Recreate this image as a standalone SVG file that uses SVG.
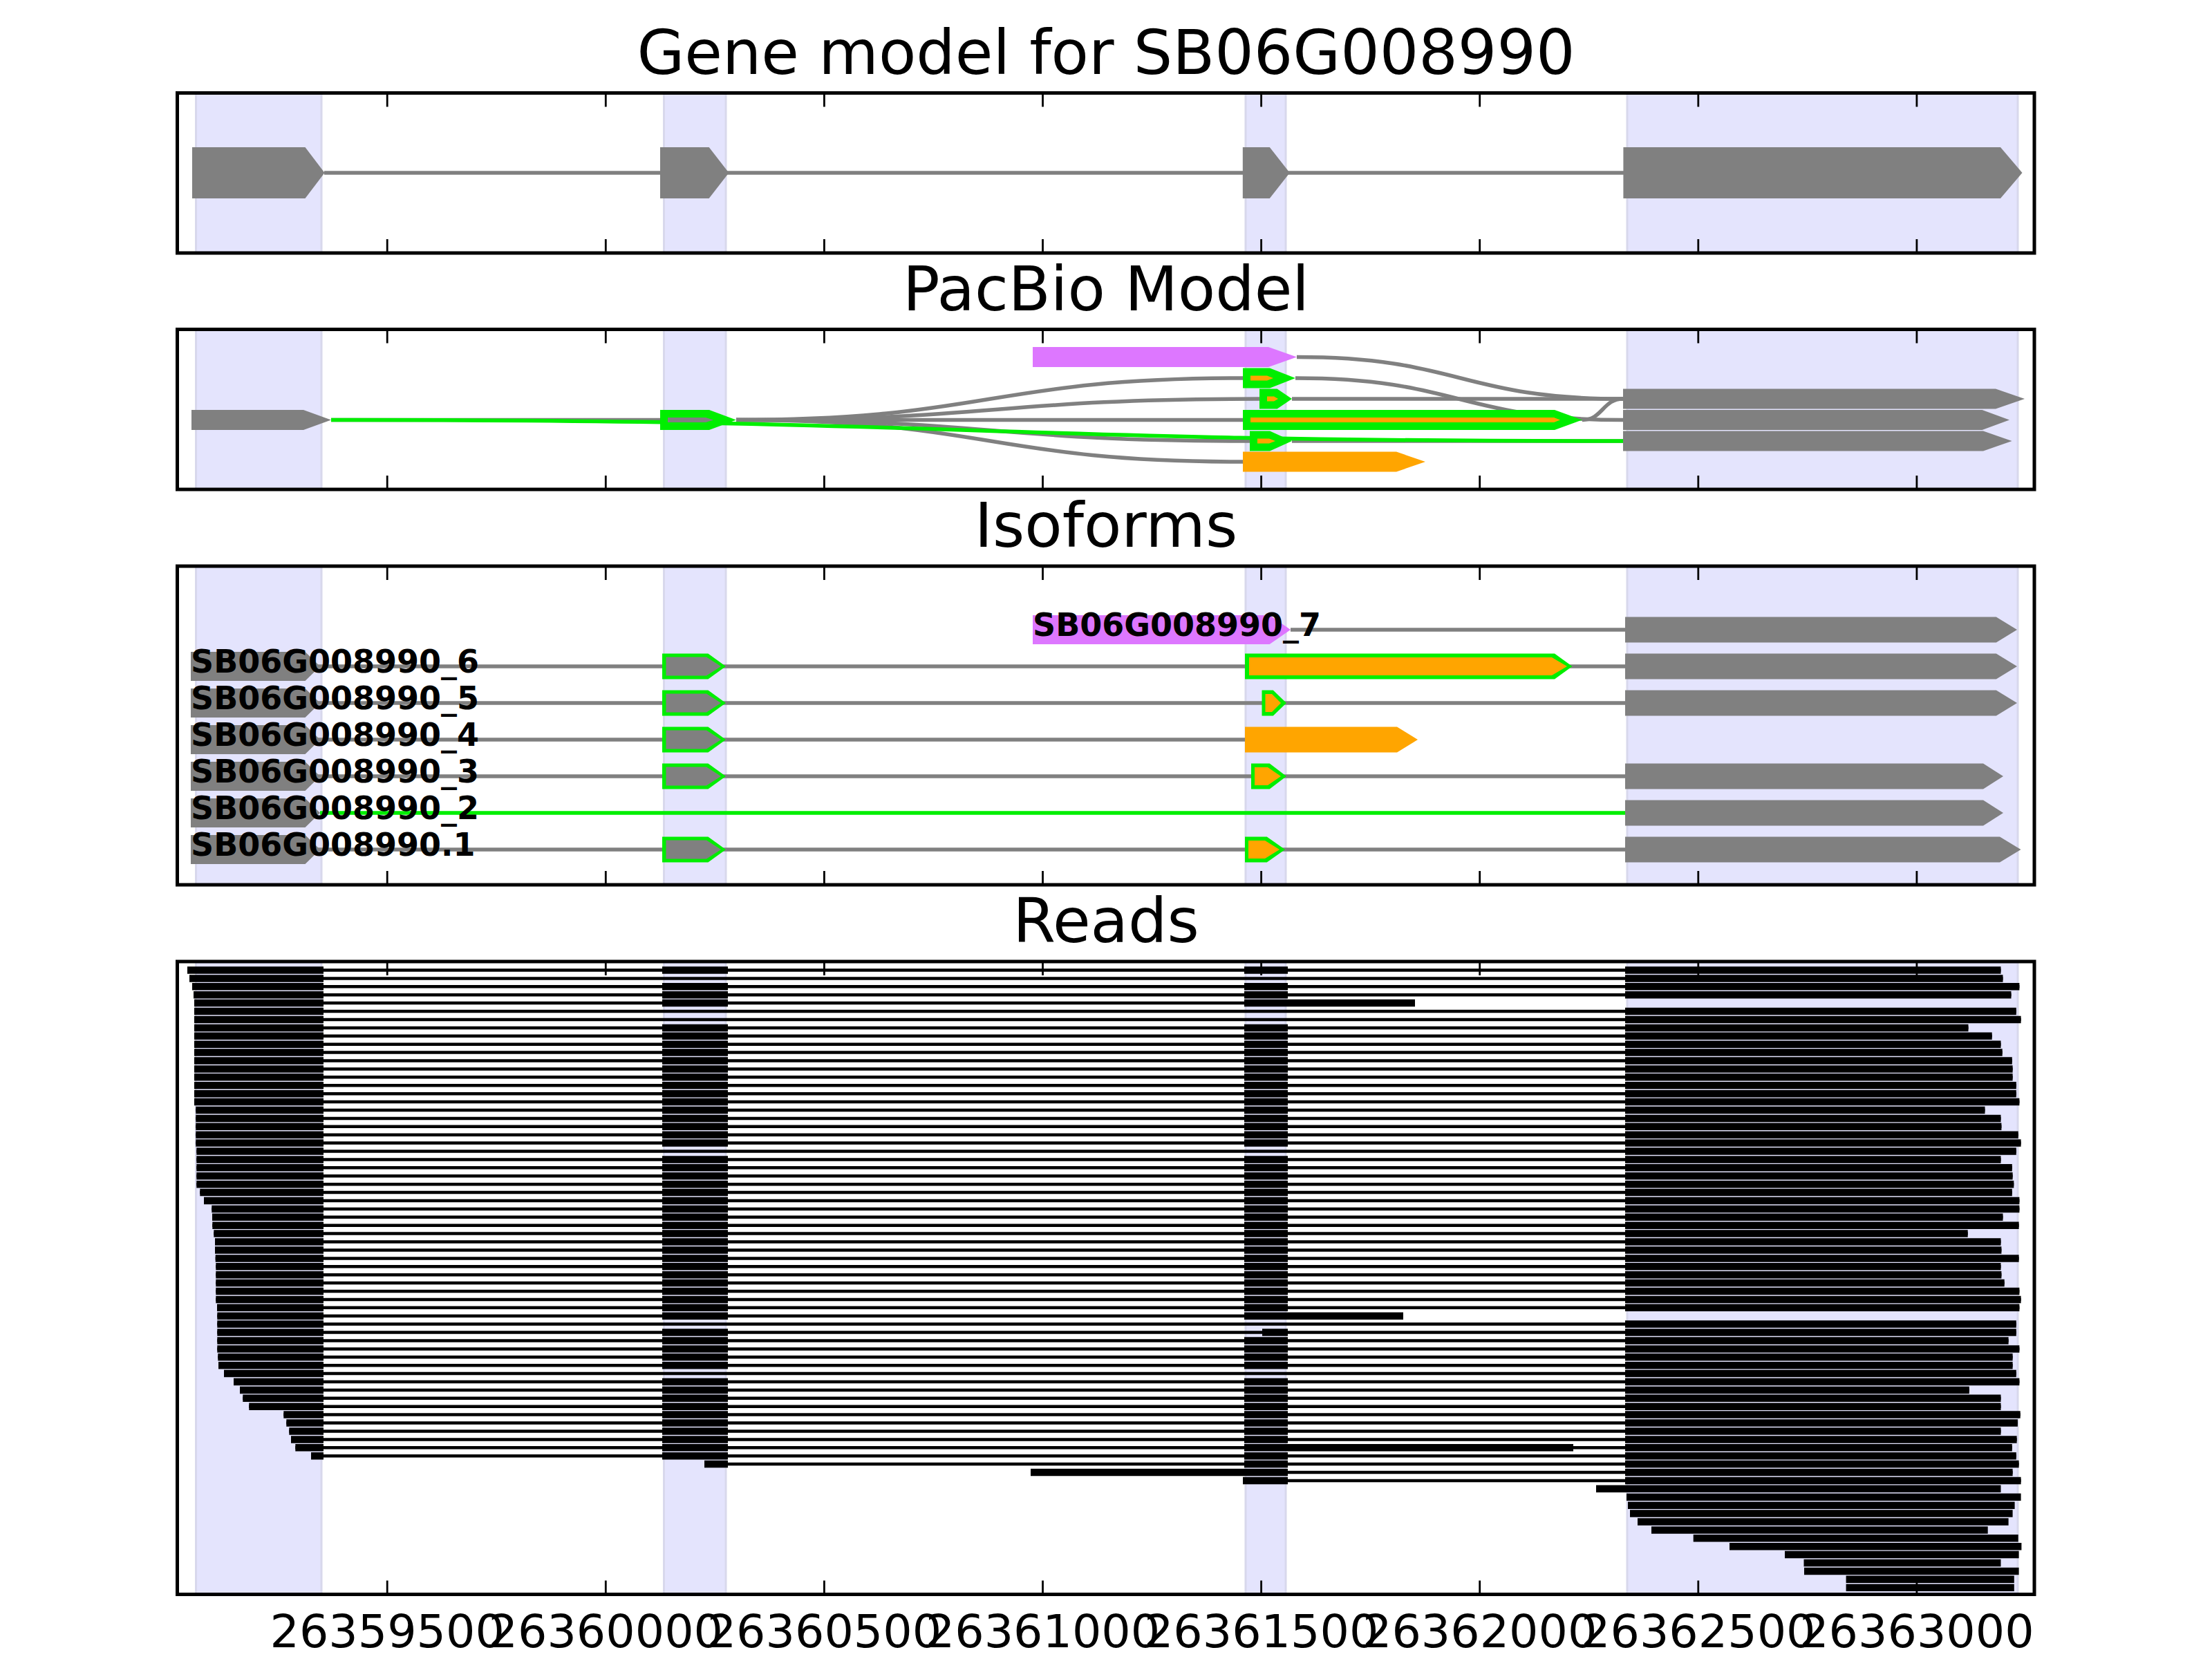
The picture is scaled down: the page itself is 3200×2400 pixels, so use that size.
<svg xmlns="http://www.w3.org/2000/svg" width="3200" height="2400" viewBox="0 0 3200 2400">
<style>
.title{font-family:"DejaVu Sans","Liberation Sans",sans-serif;font-size:88.9px;text-anchor:middle;fill:#000}
.ticklab{font-family:"DejaVu Sans","Liberation Sans",sans-serif;font-size:66.7px;text-anchor:middle;fill:#000}
.lab{font-family:"DejaVu Sans","Liberation Sans",sans-serif;font-weight:bold;font-size:46px;fill:#000}
.frame{fill:none;stroke:#000;stroke-width:5}
.tick{fill:none;stroke:#000;stroke-width:2.8}
.shade{fill:#e4e4fd;stroke:#d8d8ec;stroke-width:3}
.gray{fill:#808080}
.green{fill:#00ee00}
.orange{fill:#ffa500}
.magenta{fill:#dd77ff}
.intron{fill:none;stroke:#808080;stroke-width:5.5}
.gline{fill:none;stroke:#00ee00;stroke-width:5.5}
.bar{fill:none;stroke:#000;stroke-width:10.5}
.ln{fill:none;stroke:#000;stroke-width:4.5}
</style>
<rect x="0" y="0" width="3200" height="2400" fill="#fff"/>

<!-- Panel 1: Gene model -->
<g id="panel-gene-model">
<text class="title" x="1600" y="106.5">Gene model for SB06G008990</text>
<g id="p1-shading">
<rect class="shade" x="283.5" y="134.5" width="181.5" height="231.5"/>
<rect class="shade" x="960.5" y="134.5" width="89.5" height="231.5"/>
<rect class="shade" x="1802" y="134.5" width="58" height="231.5"/>
<rect class="shade" x="2354" y="134.5" width="565" height="231.5"/>
</g>
<g id="p1-connectors"><path class="intron" d="M469 250H2349"/></g>
<g id="p1-exon1"><polygon class="gray" points="278,213 441.5,213 469.6,250 441.5,287 278,287"/></g>
<g id="p1-exon2"><polygon class="gray" points="955,213 1025.7,213 1054.4,250 1025.7,287 955,287"/></g>
<g id="p1-exon3"><polygon class="gray" points="1797.8,213 1836.8,213 1865.8,250 1836.8,287 1797.8,287"/></g>
<g id="p1-exon4"><polygon class="gray" points="2348.4,213 2894,213 2925.5,250 2894,287 2348.4,287"/></g>
<path class="tick" d="M560.2 134.5v20M876.3 134.5v20M1192.4 134.5v20M1508.5 134.5v20M1824.6 134.5v20M2140.7 134.5v20M2456.8 134.5v20M2772.9 134.5v20M560.2 366v-20M876.3 366v-20M1192.4 366v-20M1508.5 366v-20M1824.6 366v-20M2140.7 366v-20M2456.8 366v-20M2772.9 366v-20"/>
<rect class="frame" x="256.5" y="134.5" width="2686.5" height="231.5"/>
</g>

<!-- Panel 2: PacBio Model -->
<g id="panel-pacbio">
<text class="title" x="1600" y="448.5">PacBio Model</text>
<g id="p2-shading">
<rect class="shade" x="283.5" y="476.5" width="181.5" height="231.5"/>
<rect class="shade" x="960.5" y="476.5" width="89.5" height="231.5"/>
<rect class="shade" x="1802" y="476.5" width="58" height="231.5"/>
<rect class="shade" x="2354" y="476.5" width="565" height="231.5"/>
</g>
<g id="p2-connectors">
<path class="intron" d="M479 607.5H955"/>
<path class="intron" d="M1065 607.5C1431.5 607.5 1431.5 547 1798 547"/>
<path class="intron" d="M1065 607.5C1443.5 607.5 1443.5 577 1822 577"/>
<path class="intron" d="M1065 607.5H1798"/>
<path class="intron" d="M1065 607.5C1436.5 607.5 1436.5 638 1808 638"/>
<path class="intron" d="M1065 607.5C1431.5 607.5 1431.5 668 1798 668"/>
<path class="intron" d="M1876 516.5C2112 516.5 2112 577 2348 577"/>
<path class="intron" d="M1874 547C2111 547 2111 607.5 2348 607.5"/>
<path class="intron" d="M1869 577H2348"/>
<path class="intron" d="M2289 607.5C2318.5 607.5 2318.5 577 2348 577"/>
<path class="intron" d="M1869 638H2348"/>
<path class="gline" d="M479 607.5C1413.5 607.5 1413.5 638 2348 638"/>
</g>
<g id="p2-exon1"><polygon class="gray" points="277,593 439,593 479,607.5 439,622 277,622"/></g>
<g id="p2-exon2"><polygon class="green" points="955,593 1026,593 1065,607.5 1026,622 955,622"/><polygon class="gray" points="966,604 1021,604 1032,607.5 1021,611 966,611"/></g>
<g id="p2-row1"><polygon class="magenta" points="1494,502 1835,502 1876,516.5 1835,531 1494,531"/></g>
<g id="p2-row2"><polygon class="green" points="1798,532.5 1837,532.5 1874,547 1837,561.5 1798,561.5"/><polygon class="orange" points="1809,543.5 1833,543.5 1842,547 1833,550.5 1809,550.5"/></g>
<g id="p2-row3"><polygon class="green" points="1822,562.5 1847.6,562.5 1869,577 1847.6,591.5 1822,591.5"/><polygon class="orange" points="1833,573.5 1843,573.5 1849,577 1843,580.5 1833,580.5"/></g>
<g id="p2-row4"><polygon class="green" points="1798,593 2249,593 2289,607.5 2249,622 1798,622"/><polygon class="orange" points="1809,604 2248,604 2257,607.5 2248,611 1809,611"/></g>
<g id="p2-row5"><polygon class="green" points="1808,623.5 1837,623.5 1869,638 1837,652.5 1808,652.5"/><polygon class="orange" points="1819,634.5 1836,634.5 1845,638 1836,641.5 1819,641.5"/></g>
<g id="p2-row6"><polygon class="orange" points="1798,653.5 2020,653.5 2062,668 2020,682.5 1798,682.5"/></g>
<g id="p2-last1"><polygon class="gray" points="2348,562.5 2887,562.5 2929,577 2887,591.5 2348,591.5"/></g>
<g id="p2-last2"><polygon class="gray" points="2348,593 2867.5,593 2907,607.5 2867.5,622 2348,622"/></g>
<g id="p2-last3"><polygon class="gray" points="2348,623.5 2869,623.5 2910.6,638 2869,652.5 2348,652.5"/></g>
<path class="tick" d="M560.2 476.5v20M876.3 476.5v20M1192.4 476.5v20M1508.5 476.5v20M1824.6 476.5v20M2140.7 476.5v20M2456.8 476.5v20M2772.9 476.5v20M560.2 708v-20M876.3 708v-20M1192.4 708v-20M1508.5 708v-20M1824.6 708v-20M2140.7 708v-20M2456.8 708v-20M2772.9 708v-20"/>
<rect class="frame" x="256.5" y="476.5" width="2686.5" height="231.5"/>
</g>

<!-- Panel 3: Isoforms -->
<g id="panel-isoforms">
<text class="title" x="1600" y="791">Isoforms</text>
<g id="p3-shading">
<rect class="shade" x="283.5" y="819" width="181.5" height="461"/>
<rect class="shade" x="960.5" y="819" width="89.5" height="461"/>
<rect class="shade" x="1802" y="819" width="58" height="461"/>
<rect class="shade" x="2354" y="819" width="565" height="461"/>
</g>
<g id="p3-connectors">
<path class="intron" d="M1867 911H2351M276 964H2351M276 1017H2351M276 1070H1801M276 1123H2351M276 1229H2351"/>
<path class="gline" d="M463 1176H2351"/>
</g>
<g id="iso-7">
<polygon class="magenta" points="1494,890 1836.7,890 1867,911 1836.7,932 1494,932"/>
<polygon class="gray" points="2351,892.5 2887.8,892.5 2918,911 2887.8,929.5 2351,929.5"/>
<text class="lab" x="1494" y="920">SB06G008990_7</text>
</g>
<g id="iso-6">
<polygon class="gray" points="276,943 441.5,943 463,964 441.5,985 276,985"/>
<polygon class="green" points="958,945.5 1024.4,945.5 1050,964 1024.4,982.5 958,982.5"/><polygon class="gray" points="963.5,950.5 1022,950.5 1043,964 1022,977.5 963.5,977.5"/>
<polygon class="green" points="1801,945.5 2249,945.5 2274.5,964 2249,982.5 1801,982.5"/><polygon class="orange" points="1807,951 2245,951 2267,964 2245,977 1807,977"/>
<polygon class="gray" points="2351,945.5 2887.8,945.5 2918,964 2887.8,982.5 2351,982.5"/>
<text class="lab" x="276" y="973">SB06G008990_6</text>
</g>
<g id="iso-5">
<polygon class="gray" points="276,996 441.5,996 463,1017 441.5,1038 276,1038"/>
<polygon class="green" points="958,998.5 1024.4,998.5 1050,1017 1024.4,1035.5 958,1035.5"/><polygon class="gray" points="963.5,1003.5 1022,1003.5 1043,1017 1022,1030.5 963.5,1030.5"/>
<polygon class="green" points="1825.5,998.5 1841.8,998.5 1861,1017 1841.8,1035.5 1825.5,1035.5"/><polygon class="orange" points="1830.5,1004 1840,1004 1853,1017 1840,1030 1830.5,1030"/>
<polygon class="gray" points="2351,998.5 2887.8,998.5 2918,1017 2887.8,1035.5 2351,1035.5"/>
<text class="lab" x="276" y="1026">SB06G008990_5</text>
</g>
<g id="iso-4">
<polygon class="gray" points="276,1049 441.5,1049 463,1070 441.5,1091 276,1091"/>
<polygon class="green" points="958,1051.5 1024.4,1051.5 1050,1070 1024.4,1088.5 958,1088.5"/><polygon class="gray" points="963.5,1056.5 1022,1056.5 1043,1070 1022,1083.5 963.5,1083.5"/>
<polygon class="orange" points="1801,1051.5 2021,1051.5 2051,1070 2021,1088.5 1801,1088.5"/>
<text class="lab" x="276" y="1079">SB06G008990_4</text>
</g>
<g id="iso-3">
<polygon class="gray" points="276,1102 441.5,1102 463,1123 441.5,1144 276,1144"/>
<polygon class="green" points="958,1104.5 1024.4,1104.5 1050,1123 1024.4,1141.5 958,1141.5"/><polygon class="gray" points="963.5,1109.5 1022,1109.5 1043,1123 1022,1136.5 963.5,1136.5"/>
<polygon class="green" points="1810,1104.5 1836.7,1104.5 1861,1123 1836.7,1141.5 1810,1141.5"/><polygon class="orange" points="1815,1110 1834,1110 1853,1123 1834,1136 1815,1136"/>
<polygon class="gray" points="2351,1104.5 2869,1104.5 2898,1123 2869,1141.5 2351,1141.5"/>
<text class="lab" x="276" y="1132">SB06G008990_3</text>
</g>
<g id="iso-2">
<polygon class="gray" points="276,1155 441.5,1155 463,1176 441.5,1197 276,1197"/>
<polygon class="gray" points="2351,1157.5 2869,1157.5 2898,1176 2869,1194.5 2351,1194.5"/>
<text class="lab" x="276" y="1185">SB06G008990_2</text>
</g>
<g id="iso-1">
<polygon class="gray" points="276,1208 441.5,1208 463,1229 441.5,1250 276,1250"/>
<polygon class="green" points="958,1210.5 1024.4,1210.5 1050,1229 1024.4,1247.5 958,1247.5"/><polygon class="gray" points="963.5,1215.5 1022,1215.5 1043,1229 1022,1242.5 963.5,1242.5"/>
<polygon class="green" points="1801,1210.5 1832.7,1210.5 1859,1229 1832.7,1247.5 1801,1247.5"/><polygon class="orange" points="1806,1216 1830,1216 1851,1229 1830,1242 1806,1242"/>
<polygon class="gray" points="2351,1210.5 2893,1210.5 2923.5,1229 2893,1247.5 2351,1247.5"/>
<text class="lab" x="276" y="1238">SB06G008990.1</text>
</g>
<path class="tick" d="M560.2 819v20M876.3 819v20M1192.4 819v20M1508.5 819v20M1824.6 819v20M2140.7 819v20M2456.8 819v20M2772.9 819v20M560.2 1280v-20M876.3 1280v-20M1192.4 1280v-20M1508.5 1280v-20M1824.6 1280v-20M2140.7 1280v-20M2456.8 1280v-20M2772.9 1280v-20"/>
<rect class="frame" x="256.5" y="819" width="2686.5" height="461"/>
</g>

<!-- Panel 4: Reads -->
<g id="panel-reads">
<text class="title" x="1600" y="1363">Reads</text>
<g id="p4-shading">
<rect class="shade" x="283.5" y="1391" width="181.5" height="915.5"/>
<rect class="shade" x="960.5" y="1391" width="89.5" height="915.5"/>
<rect class="shade" x="1802" y="1391" width="58" height="915.5"/>
<rect class="shade" x="2354" y="1391" width="565" height="915.5"/>
</g>
<g id="reads">
<g transform="translate(0,1403.5)"><path class="ln" d="M271 0H2894.5"/><path class="bar" d="M271 0H468M958 0H1053M1800 0H1863M2351 0H2894.5"/></g>
<g transform="translate(0,1415.4)"><path class="ln" d="M274 0H2897.5"/><path class="bar" d="M274 0H468M2351 0H2897.5"/></g>
<g transform="translate(0,1427.3)"><path class="ln" d="M278 0H2921.4"/><path class="bar" d="M278 0H468M958 0H1053M1800 0H1863M2351 0H2921.4"/></g>
<g transform="translate(0,1439.2)"><path class="ln" d="M280 0H2909.5"/><path class="bar" d="M280 0H468M958 0H1053M1800 0H1863M2351 0H2909.5"/></g>
<g transform="translate(0,1451.1)"><path class="ln" d="M281 0H2047"/><path class="bar" d="M281 0H468M958 0H1053M1800 0H2047"/></g>
<g transform="translate(0,1463.1)"><path class="ln" d="M281 0H2916.8"/><path class="bar" d="M281 0H468M2351 0H2916.8"/></g>
<g transform="translate(0,1475)"><path class="ln" d="M281 0H2923.6"/><path class="bar" d="M281 0H468M2351 0H2923.6"/></g>
<g transform="translate(0,1486.9)"><path class="ln" d="M281 0H2847.5"/><path class="bar" d="M281 0H468M958 0H1053M1800 0H1863M2351 0H2847.5"/></g>
<g transform="translate(0,1498.8)"><path class="ln" d="M281 0H2881.7"/><path class="bar" d="M281 0H468M958 0H1053M1800 0H1863M2351 0H2881.7"/></g>
<g transform="translate(0,1510.7)"><path class="ln" d="M281 0H2894.5"/><path class="bar" d="M281 0H468M958 0H1053M1800 0H1863M2351 0H2894.5"/></g>
<g transform="translate(0,1522.6)"><path class="ln" d="M281 0H2896.7"/><path class="bar" d="M281 0H468M958 0H1053M1800 0H1863M2351 0H2896.7"/></g>
<g transform="translate(0,1534.5)"><path class="ln" d="M281 0H2910.8"/><path class="bar" d="M281 0H468M958 0H1053M1800 0H1863M2351 0H2910.8"/></g>
<g transform="translate(0,1546.4)"><path class="ln" d="M281 0H2911.6"/><path class="bar" d="M281 0H468M958 0H1053M1800 0H1863M2351 0H2911.6"/></g>
<g transform="translate(0,1558.3)"><path class="ln" d="M281 0H2911.6"/><path class="bar" d="M281 0H468M958 0H1053M1800 0H1863M2351 0H2911.6"/></g>
<g transform="translate(0,1570.2)"><path class="ln" d="M281 0H2916.8"/><path class="bar" d="M281 0H468M958 0H1053M1800 0H1863M2351 0H2916.8"/></g>
<g transform="translate(0,1582.2)"><path class="ln" d="M281 0H2916.8"/><path class="bar" d="M281 0H468M958 0H1053M1800 0H1863M2351 0H2916.8"/></g>
<g transform="translate(0,1594.1)"><path class="ln" d="M281 0H2921.4"/><path class="bar" d="M281 0H468M958 0H1053M1800 0H1863M2351 0H2921.4"/></g>
<g transform="translate(0,1606)"><path class="ln" d="M283.3 0H2871.5"/><path class="bar" d="M283.3 0H468M958 0H1053M1800 0H1863M2351 0H2871.5"/></g>
<g transform="translate(0,1617.9)"><path class="ln" d="M283.3 0H2894.5"/><path class="bar" d="M283.3 0H468M958 0H1053M1800 0H1863M2351 0H2894.5"/></g>
<g transform="translate(0,1629.8)"><path class="ln" d="M283.3 0H2895.4"/><path class="bar" d="M283.3 0H468M958 0H1053M1800 0H1863M2351 0H2895.4"/></g>
<g transform="translate(0,1641.7)"><path class="ln" d="M283.3 0H2919.7"/><path class="bar" d="M283.3 0H468M958 0H1053M1800 0H1863M2351 0H2919.7"/></g>
<g transform="translate(0,1653.6)"><path class="ln" d="M283.3 0H2923.6"/><path class="bar" d="M283.3 0H468M958 0H1053M1800 0H1863M2351 0H2923.6"/></g>
<g transform="translate(0,1665.5)"><path class="ln" d="M284.3 0H2916.8"/><path class="bar" d="M284.3 0H468M2351 0H2916.8"/></g>
<g transform="translate(0,1677.4)"><path class="ln" d="M284.3 0H2894.5"/><path class="bar" d="M284.3 0H468M958 0H1053M1800 0H1863M2351 0H2894.5"/></g>
<g transform="translate(0,1689.3)"><path class="ln" d="M284.3 0H2910.8"/><path class="bar" d="M284.3 0H468M958 0H1053M1800 0H1863M2351 0H2910.8"/></g>
<g transform="translate(0,1701.3)"><path class="ln" d="M284.3 0H2911.6"/><path class="bar" d="M284.3 0H468M958 0H1053M1800 0H1863M2351 0H2911.6"/></g>
<g transform="translate(0,1713.2)"><path class="ln" d="M284.3 0H2913.3"/><path class="bar" d="M284.3 0H468M958 0H1053M1800 0H1863M2351 0H2913.3"/></g>
<g transform="translate(0,1725.1)"><path class="ln" d="M289.3 0H2910.8"/><path class="bar" d="M289.3 0H468M958 0H1053M1800 0H1863M2351 0H2910.8"/></g>
<g transform="translate(0,1737)"><path class="ln" d="M295 0H2921.4"/><path class="bar" d="M295 0H468M958 0H1053M1800 0H1863M2351 0H2921.4"/></g>
<g transform="translate(0,1748.9)"><path class="ln" d="M306.3 0H2921.4"/><path class="bar" d="M306.3 0H468M958 0H1053M1800 0H1863M2351 0H2921.4"/></g>
<g transform="translate(0,1760.8)"><path class="ln" d="M307 0H2897.5"/><path class="bar" d="M307 0H468M958 0H1053M1800 0H1863M2351 0H2897.5"/></g>
<g transform="translate(0,1772.7)"><path class="ln" d="M307.3 0H2920.6"/><path class="bar" d="M307.3 0H468M958 0H1053M1800 0H1863M2351 0H2920.6"/></g>
<g transform="translate(0,1784.6)"><path class="ln" d="M309.3 0H2846.7"/><path class="bar" d="M309.3 0H468M958 0H1053M1800 0H1863M2351 0H2846.7"/></g>
<g transform="translate(0,1796.5)"><path class="ln" d="M311 0H2894.5"/><path class="bar" d="M311 0H468M958 0H1053M1800 0H1863M2351 0H2894.5"/></g>
<g transform="translate(0,1808.4)"><path class="ln" d="M311 0H2895.4"/><path class="bar" d="M311 0H468M958 0H1053M1800 0H1863M2351 0H2895.4"/></g>
<g transform="translate(0,1820.4)"><path class="ln" d="M311.7 0H2920.6"/><path class="bar" d="M311.7 0H468M958 0H1053M1800 0H1863M2351 0H2920.6"/></g>
<g transform="translate(0,1832.3)"><path class="ln" d="M312.3 0H2894.5"/><path class="bar" d="M312.3 0H468M958 0H1053M1800 0H1863M2351 0H2894.5"/></g>
<g transform="translate(0,1844.2)"><path class="ln" d="M312.3 0H2895.4"/><path class="bar" d="M312.3 0H468M958 0H1053M1800 0H1863M2351 0H2895.4"/></g>
<g transform="translate(0,1856.1)"><path class="ln" d="M312.3 0H2899.7"/><path class="bar" d="M312.3 0H468M958 0H1053M1800 0H1863M2351 0H2899.7"/></g>
<g transform="translate(0,1868)"><path class="ln" d="M312.3 0H2921.4"/><path class="bar" d="M312.3 0H468M958 0H1053M1800 0H1863M2351 0H2921.4"/></g>
<g transform="translate(0,1879.9)"><path class="ln" d="M312.3 0H2923.6"/><path class="bar" d="M312.3 0H468M958 0H1053M1800 0H1863M2351 0H2923.6"/></g>
<g transform="translate(0,1891.8)"><path class="ln" d="M314 0H2921.4"/><path class="bar" d="M314 0H468M958 0H1053M1800 0H1863M2351 0H2921.4"/></g>
<g transform="translate(0,1903.7)"><path class="ln" d="M314.3 0H2030"/><path class="bar" d="M314.3 0H468M958 0H1053M1800 0H2030"/></g>
<g transform="translate(0,1915.6)"><path class="ln" d="M314.3 0H2916.8"/><path class="bar" d="M314.3 0H468M2351 0H2916.8"/></g>
<g transform="translate(0,1927.5)"><path class="ln" d="M314.3 0H2916.8"/><path class="bar" d="M314.3 0H468M958 0H1053M1826 0H1863M2351 0H2916.8"/></g>
<g transform="translate(0,1939.5)"><path class="ln" d="M314.3 0H2905.6"/><path class="bar" d="M314.3 0H468M958 0H1053M1800 0H1863M2351 0H2905.6"/></g>
<g transform="translate(0,1951.4)"><path class="ln" d="M314.3 0H2921.4"/><path class="bar" d="M314.3 0H468M958 0H1053M1800 0H1863M2351 0H2921.4"/></g>
<g transform="translate(0,1963.3)"><path class="ln" d="M315.3 0H2911.6"/><path class="bar" d="M315.3 0H468M958 0H1053M1800 0H1863M2351 0H2911.6"/></g>
<g transform="translate(0,1975.2)"><path class="ln" d="M316 0H2911.6"/><path class="bar" d="M316 0H468M958 0H1053M1800 0H1863M2351 0H2911.6"/></g>
<g transform="translate(0,1987.1)"><path class="ln" d="M324 0H2916.8"/><path class="bar" d="M324 0H468M2351 0H2916.8"/></g>
<g transform="translate(0,1999)"><path class="ln" d="M338 0H2921.4"/><path class="bar" d="M338 0H468M958 0H1053M1800 0H1863M2351 0H2921.4"/></g>
<g transform="translate(0,2010.9)"><path class="ln" d="M347 0H2848.8"/><path class="bar" d="M347 0H468M958 0H1053M1800 0H1863M2351 0H2848.8"/></g>
<g transform="translate(0,2022.8)"><path class="ln" d="M351.3 0H2894.5"/><path class="bar" d="M351.3 0H468M958 0H1053M1800 0H1863M2351 0H2894.5"/></g>
<g transform="translate(0,2034.7)"><path class="ln" d="M360.3 0H2894.5"/><path class="bar" d="M360.3 0H468M958 0H1053M1800 0H1863M2351 0H2894.5"/></g>
<g transform="translate(0,2046.6)"><path class="ln" d="M410.3 0H2922.7"/><path class="bar" d="M410.3 0H468M958 0H1053M1800 0H1863M2351 0H2922.7"/></g>
<g transform="translate(0,2058.6)"><path class="ln" d="M414.3 0H2918.9"/><path class="bar" d="M414.3 0H468M958 0H1053M1800 0H1863M2351 0H2918.9"/></g>
<g transform="translate(0,2070.5)"><path class="ln" d="M418.3 0H2894.5"/><path class="bar" d="M418.3 0H468M958 0H1053M1800 0H1863M2351 0H2894.5"/></g>
<g transform="translate(0,2082.4)"><path class="ln" d="M421 0H2917.6"/><path class="bar" d="M421 0H468M958 0H1053M1800 0H1863M2351 0H2917.6"/></g>
<g transform="translate(0,2094.3)"><path class="ln" d="M427.3 0H2910.8"/><path class="bar" d="M427.3 0H468M958 0H1053M1800 0H2276M2351 0H2910.8"/></g>
<g transform="translate(0,2106.2)"><path class="ln" d="M450 0H2916.8"/><path class="bar" d="M450 0H468M958 0H1053M1800 0H1863M2351 0H2916.8"/></g>
<g transform="translate(0,2118.1)"><path class="ln" d="M1019 0H2920.6"/><path class="bar" d="M1019 0H1053M1800 0H1863M2351 0H2920.6"/></g>
<g transform="translate(0,2130)"><path class="ln" d="M1491 0H2911.6"/><path class="bar" d="M1491 0H1863M2351 0H2911.6"/></g>
<g transform="translate(0,2141.9)"><path class="ln" d="M1798 0H2923.6"/><path class="bar" d="M1798 0H1863M2351 0H2923.6"/></g>
<g transform="translate(0,2153.8)"><path class="bar" d="M2309 0H2894.5"/></g>
<g transform="translate(0,2165.7)"><path class="bar" d="M2353 0H2923.6"/></g>
<g transform="translate(0,2177.7)"><path class="bar" d="M2355 0H2914.6"/></g>
<g transform="translate(0,2189.6)"><path class="bar" d="M2358 0H2911.6"/></g>
<g transform="translate(0,2201.5)"><path class="bar" d="M2369 0H2905.6"/></g>
<g transform="translate(0,2213.4)"><path class="bar" d="M2389 0H2875.7"/></g>
<g transform="translate(0,2225.3)"><path class="bar" d="M2449.7 0H2919.7"/></g>
<g transform="translate(0,2237.2)"><path class="bar" d="M2502 0H2924.4"/></g>
<g transform="translate(0,2249.1)"><path class="bar" d="M2582 0H2920.6"/></g>
<g transform="translate(0,2261)"><path class="bar" d="M2609.5 0H2894.5"/></g>
<g transform="translate(0,2272.9)"><path class="bar" d="M2610 0H2920.6"/></g>
<g transform="translate(0,2284.8)"><path class="bar" d="M2670.6 0H2913.8"/></g>
<g transform="translate(0,2296.8)"><path class="bar" d="M2670.6 0H2913.8"/></g>
</g>
<path class="tick" d="M560.2 1391v20M876.3 1391v20M1192.4 1391v20M1508.5 1391v20M1824.6 1391v20M2140.7 1391v20M2456.8 1391v20M2772.9 1391v20M560.2 2306.5v-20M876.3 2306.5v-20M1192.4 2306.5v-20M1508.5 2306.5v-20M1824.6 2306.5v-20M2140.7 2306.5v-20M2456.8 2306.5v-20M2772.9 2306.5v-20"/>
<rect class="frame" x="256.5" y="1391" width="2686.5" height="915.5"/>
<g id="tick-labels">
<text class="ticklab" x="560.2" y="2383">26359500</text>
<text class="ticklab" x="876.3" y="2383">26360000</text>
<text class="ticklab" x="1192.4" y="2383">26360500</text>
<text class="ticklab" x="1508.5" y="2383">26361000</text>
<text class="ticklab" x="1824.6" y="2383">26361500</text>
<text class="ticklab" x="2140.7" y="2383">26362000</text>
<text class="ticklab" x="2456.8" y="2383">26362500</text>
<text class="ticklab" x="2772.9" y="2383">26363000</text>
</g>
</g>
</svg>
